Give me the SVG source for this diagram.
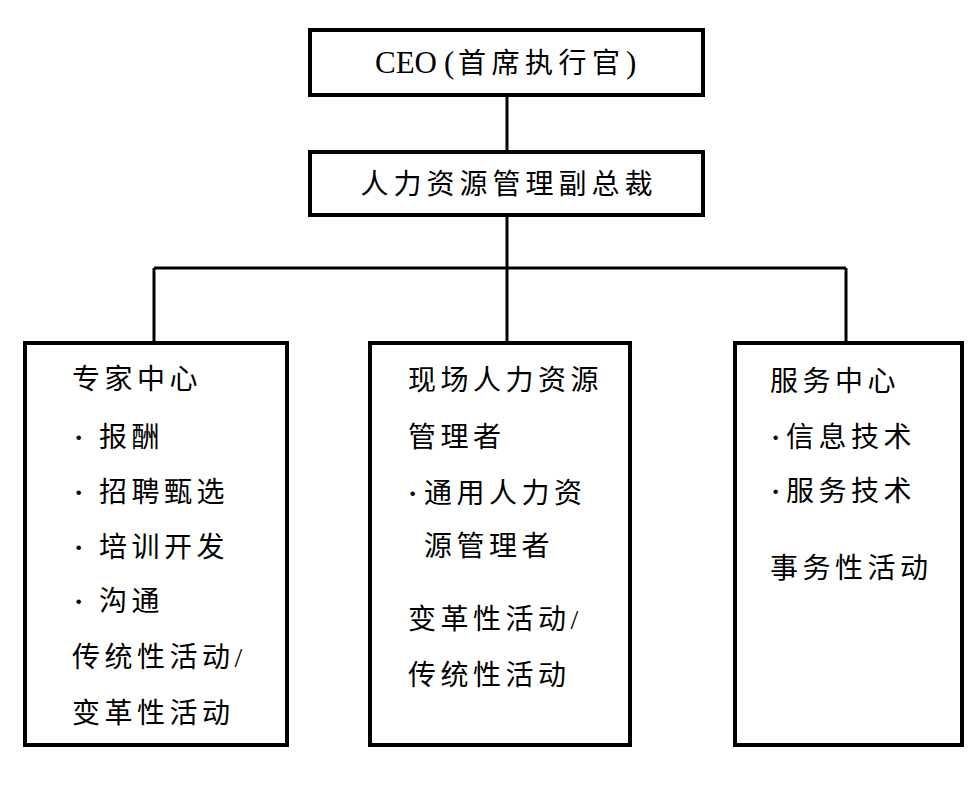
<svg xmlns="http://www.w3.org/2000/svg" width="975" height="789" viewBox="0 0 975 789">
<style>
.box{fill:#fff;stroke:#000;stroke-width:4}
.ln{fill:none;stroke:#000;stroke-width:3}
text{font-family:"Liberation Serif","Noto Sans CJK SC",serif;font-size:28px;fill:#000;letter-spacing:4.5px}
.c{text-anchor:middle}
.d{font-weight:bold}
</style>
<rect width="975" height="789" fill="#fff"/>
<g id="connectors">
<path class="ln" d="M507 95V152M507 215V343M154 268H846M154 268V343M846 268V343"/>
</g>
<g id="ceo">
<rect class="box" x="310" y="30" width="393" height="65"/>
<text y="73"><tspan x="375" style="font-size:31px;letter-spacing:0">CEO</tspan><tspan x="444" style="font-size:31px;letter-spacing:0">(</tspan><tspan x="458" style="letter-spacing:5.5px">首席执行官</tspan><tspan x="626" style="font-size:31px;letter-spacing:0">)</tspan></text>
</g>
<g id="hrvp">
<rect class="box" x="310" y="152" width="393" height="63"/>
<text class="c" x="509" y="194" style="letter-spacing:5px">人力资源管理副总裁</text>
</g>
<g id="expert">
<rect class="box" x="25" y="343" width="262" height="402"/>
<text x="72" y="389">专家中心</text>
<text y="447"><tspan class="d" x="74">·</tspan><tspan x="99">报酬</tspan></text>
<text y="502"><tspan class="d" x="74">·</tspan><tspan x="99">招聘甄选</tspan></text>
<text y="557"><tspan class="d" x="74">·</tspan><tspan x="99">培训开发</tspan></text>
<text y="611"><tspan class="d" x="74">·</tspan><tspan x="99">沟通</tspan></text>
<text x="72" y="667">传统性活动/</text>
<text x="72" y="723">变革性活动</text>
</g>
<g id="field">
<rect class="box" x="370" y="343" width="260" height="402"/>
<text x="408" y="390">现场人力资源</text>
<text x="408" y="447">管理者</text>
<text y="503"><tspan class="d" x="408">·</tspan><tspan x="424">通用人力资</tspan></text>
<text x="424" y="556">源管理者</text>
<text x="408" y="629">变革性活动/</text>
<text x="408" y="685">传统性活动</text>
</g>
<g id="service">
<rect class="box" x="735" y="343" width="227" height="402"/>
<text x="770" y="391">服务中心</text>
<text y="447"><tspan class="d" x="771">·</tspan><tspan x="786">信息技术</tspan></text>
<text y="501"><tspan class="d" x="771">·</tspan><tspan x="786">服务技术</tspan></text>
<text x="770" y="578">事务性活动</text>
</g>
</svg>
